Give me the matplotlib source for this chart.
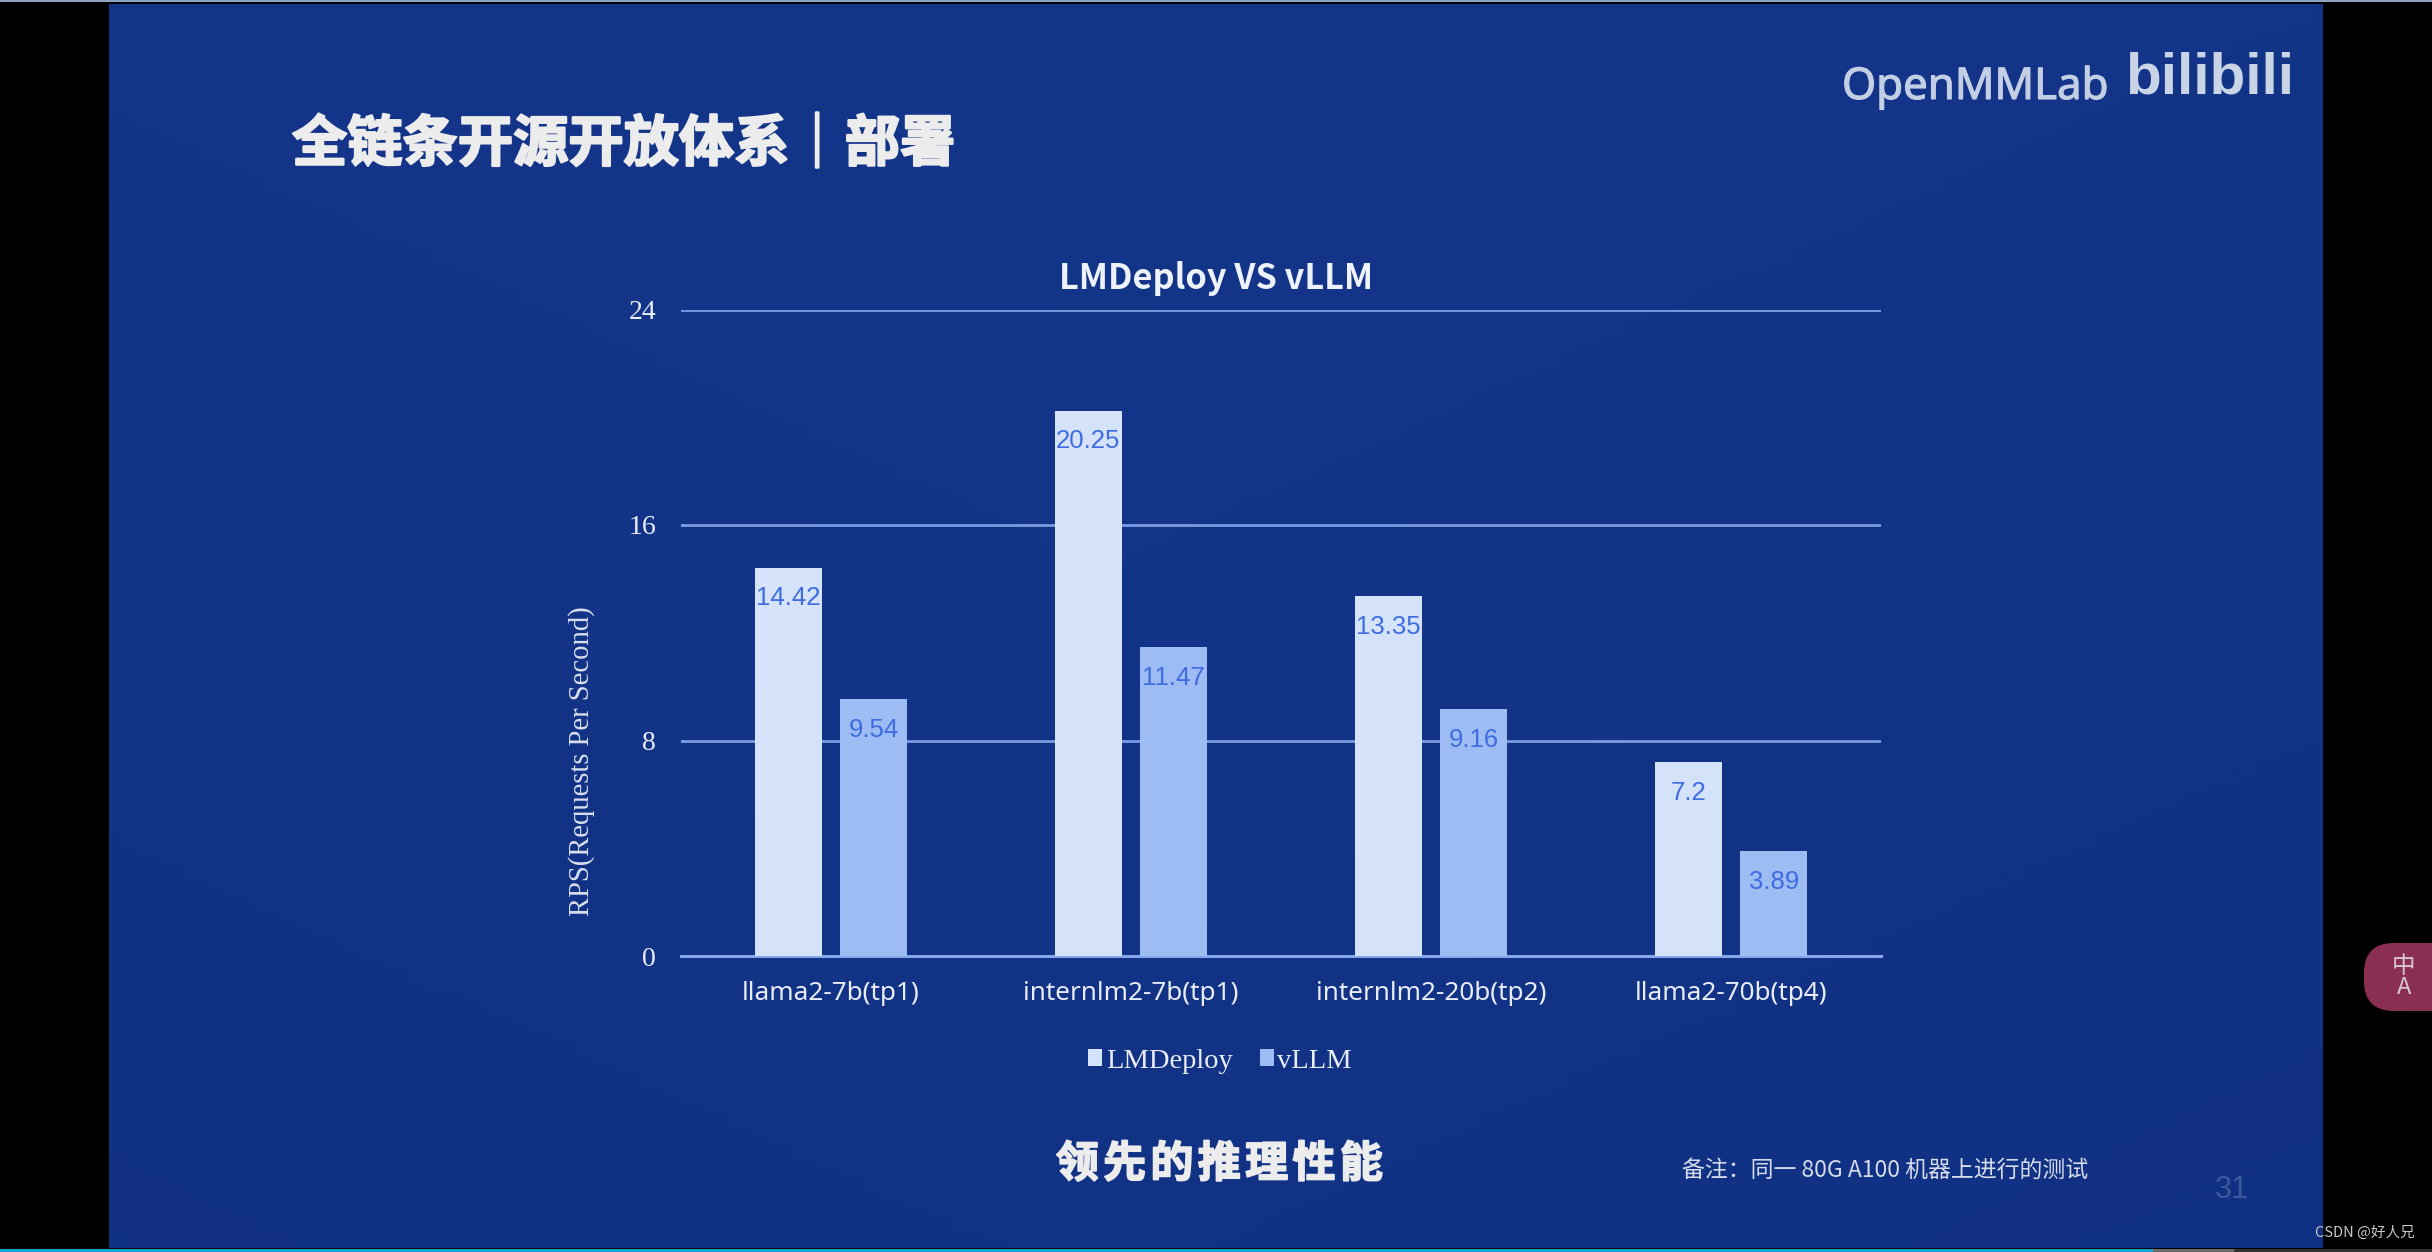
import numpy as np
import matplotlib
matplotlib.use('Agg')
import matplotlib.pyplot as plt
import matplotlib.patheffects as pe
from matplotlib.patches import Rectangle, FancyBboxPatch

plt.rcParams['font.family'] = ['Noto Sans CJK SC', 'DejaVu Sans']

categories = ['llama2-7b(tp1)', 'internlm2-7b(tp1)', 'internlm2-20b(tp2)', 'llama2-70b(tp4)']
lmdeploy = [14.42, 20.25, 13.35, 7.2]
vllm = [9.54, 11.47, 9.16, 3.89]
lmdeploy_labels = ['14.42', '20.25', '13.35', '7.2']
vllm_labels = ['9.54', '11.47', '9.16', '3.89']
yticks = [0, 8, 16, 24]

W, H = 2432, 1252
fig = plt.figure(figsize=(W / 100, H / 100), dpi=100, facecolor='black')

# page behind the chart, works in image pixels
bg = fig.add_axes([0, 0, 1, 1])
bg.set_xlim(0, W)
bg.set_ylim(H, 0)
bg.axis('off')

xg = np.linspace(0, 1, 200)
yg = np.linspace(0, 1, 120)
xx, yy = np.meshgrid(xg, yg)
shade = 0.55 * yy + 0.45 * np.abs(xx - 0.45)
top = np.array([0x14, 0x36, 0x8a]) / 255
low = np.array([0x10, 0x2f, 0x82]) / 255
grad = top[None, None, :] * (1 - shade[..., None]) + low[None, None, :] * shade[..., None]
bg.imshow(grad, extent=[109, 2323, 1248, 4], aspect='auto', zorder=1)
bg.set_xlim(0, W)
bg.set_ylim(H, 0)

# faint swoosh in the slide background
bg.plot([206, 196, 200, 222, 263, 386, 493], [713, 745, 770, 795, 817, 877, 933], color='#3a64b4', alpha=0.04, lw=22,
        solid_capstyle='round', solid_joinstyle='round', zorder=1.5)

# top and bottom window strips
bg.add_patch(Rectangle((0, 0), W, 2, color='#8fa3c4', lw=0, zorder=2))
bg.add_patch(Rectangle((0, 1249), 2153, 3, color='#12a5d8', lw=0, zorder=2))
bg.add_patch(Rectangle((2153, 1249), 81, 3, color='#6a6a6a', lw=0, zorder=2))
bg.add_patch(Rectangle((2234, 1249), 198, 3, color='#333333', lw=0, zorder=2))

# translate button on the right edge
bg.add_patch(FancyBboxPatch((2364, 943), 120, 68, boxstyle='round,pad=0,rounding_size=30',
                            fc='#8b2f52', ec='none', zorder=2))
bg.text(2404, 977, '中\nA', color='#d8c8d0', fontsize=17, ha='center', va='center', linespacing=0.85, zorder=3)

heavy = [pe.withStroke(linewidth=1.6, foreground='#ececec')]
bg.text(292, 145, '全链条开源开放体系｜部署', color='#ececec', fontsize=39.8, fontweight='bold',
        ha='left', va='center', zorder=3, path_effects=heavy)
bg.text(1842, 88, 'OpenMMLab', color='#c3cfe4', fontsize=31.5, family='Noto Sans', ha='left', va='center', zorder=3,
        path_effects=[pe.withStroke(linewidth=0.8, foreground='#c3cfe4')])
bg.text(2125, 78, 'bilibili', color='#c9d4e6', fontsize=42, family='Liberation Sans',
        fontweight='bold', ha='left', va='center', zorder=3)
bg.text(1216, 279, 'LMDeploy VS vLLM', color='#eef2fa', fontsize=24.7, fontweight='bold',
        ha='center', va='center', zorder=3)
bg.text(1219, 1164, '领\u200a先\u200a的\u200a推\u200a理\u200a性\u200a能', color='#ececec', fontsize=31, fontweight='bold',
        ha='center', va='center', zorder=3, path_effects=[pe.withStroke(linewidth=1.2, foreground='#ececec')])
bg.text(1682, 1170, '备注：同一 80G A100 机器上进行的测试', color='#d6dcea', fontsize=16.5, ha='left', va='center', zorder=3)
bg.text(2232, 1190, '31', color='#3a5a9c', fontsize=22, family='Liberation Sans', ha='center', va='center', zorder=3)
bg.text(2415, 1233, 'CSDN @好人兄', color='#c8c8c8', fontsize=10.5, ha='right', va='center', zorder=3)

# chart
left, right, ytop, ybot = 681, 1881, 309.5, 956
ax = fig.add_axes([left / W, 1 - ybot / H, (right - left) / W, (ybot - ytop) / H])
ax.patch.set_alpha(0)

x = np.arange(len(categories))
bar_w = 0.2235
gap = 0.0615
offset = (bar_w + gap) / 2
bars1 = ax.bar(x - offset, lmdeploy, bar_w, color='#d5e3fa', zorder=3, label='LMDeploy')
bars2 = ax.bar(x + offset, vllm, bar_w, color='#9dbcf4', zorder=3, label='vLLM')

for bars, labels in [(bars1, lmdeploy_labels), (bars2, vllm_labels)]:
    for b, lab in zip(bars, labels):
        ax.annotate(lab, (b.get_x() + b.get_width() / 2, b.get_height()), xytext=(0, -22),
                    textcoords='offset points', ha='center', va='center', color='#3f6ce0',
                    fontsize=18.5, family='Liberation Sans', zorder=4)

ax.set_xlim(-0.5, 3.5)
ax.set_ylim(0, 24)
ax.set_yticks(yticks)
ax.set_xticks(x)
ax.set_xticklabels(categories, family='Noto Sans', fontsize=18.8, color='#e8edf8')
ax.set_yticklabels([str(t) for t in yticks], family='Liberation Serif', fontsize=20, color='#e8edf8')
ax.tick_params(axis='both', length=0)
ax.tick_params(axis='y', pad=18)
ax.tick_params(axis='x', pad=18)
ax.grid(axis='y', color='#7b9ce2', lw=2, zorder=1)
ax.set_axisbelow(True)
for s in ['top', 'right', 'left']:
    ax.spines[s].set_visible(False)
ax.spines['bottom'].set_color('#86a6ea')
ax.spines['bottom'].set_linewidth(2.2)

bg.text(582, 761, 'RPS(Requests Per Second)', rotation=90, color='#d8dfee', fontsize=20.6,
        family='Liberation Serif', ha='center', va='center', zorder=3)

leg = ax.legend(loc='center', bbox_to_anchor=((1220 - left) / (right - left), (ybot - 1061) / (ybot - ytop)),
                ncol=2, frameon=False, handlelength=0.5, handleheight=0.5, handletextpad=0.12, columnspacing=0.95,
                prop={'family': 'Liberation Serif', 'size': 20.5})
for t in leg.get_texts():
    t.set_color('#e8edf8')

fig.savefig('out.png', dpi=100, facecolor='black')
